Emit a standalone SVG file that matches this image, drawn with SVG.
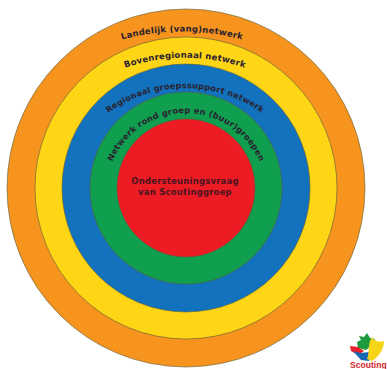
<svg xmlns="http://www.w3.org/2000/svg" width="387" height="369" viewBox="0 0 387 369">
<style>
.r{stroke:#5a5a3a;stroke-width:.6}
text{font-family:"DejaVu Sans","Liberation Sans",sans-serif;font-weight:700;fill:#2a2230;font-size:8.5px;letter-spacing:.2px}
.c{fill:#4a1420}
.t3{font-size:8.2px;letter-spacing:.2px}
.t4{font-size:8.3px;letter-spacing:.2px}
</style>
<defs>
<path id="a1" d="M 102 46 A 229 229 0 0 1 262 46"/>
<path id="a2" d="M 105 76 A 185 185 0 0 1 265 76"/>
<path id="a3" d="M 95 124 A 131 131 0 0 1 275 124"/>
<path id="a4" d="M 106 193 A 80 80 0 0 1 266 193"/>
</defs>
<rect width="387" height="369" fill="#fff"/>
<g id="ring-landelijk"><circle class="r" cx="186" cy="188" r="179" fill="#f7941d"/><text><textPath href="#a1" startOffset="50%" text-anchor="middle">Landelijk (vang)netwerk</textPath></text></g>
<g id="ring-bovenregionaal"><circle class="r" cx="186" cy="188" r="151" fill="#ffd616"/><text><textPath href="#a2" startOffset="50%" text-anchor="middle">Bovenregionaal netwerk</textPath></text></g>
<g id="ring-regionaal"><circle class="r" cx="186" cy="188" r="124" fill="#1272bd"/><text class="t3"><textPath href="#a3" startOffset="50%" text-anchor="middle">Regionaal groepssupport netwerk</textPath></text></g>
<g id="ring-netwerk"><circle class="r" cx="186" cy="188" r="96" fill="#0f9f4f"/><text class="t4"><textPath href="#a4" startOffset="50%" text-anchor="middle">Netwerk rond groep en (buur)groepen</textPath></text></g>
<g id="node-ondersteuningsvraag"><circle class="r" cx="186" cy="188" r="69" fill="#ed1c24"/>
<text class="c" x="185" y="184" text-anchor="middle">Ondersteuningsvraag</text>
<text class="c" x="185" y="195" text-anchor="middle">van Scoutinggroep</text></g>
<g id="logo">
<path d="M 357 342 L 361 340 L 359 336 L 364 337 L 367 333 L 370 338 L 375 339 L 372 345 L 366 350 L 358 348 Z" fill="#1f9b3f"/>
<path d="M 350 346 L 358 347 L 364 351 L 358 355 L 351 351 Z" fill="#e8202a"/>
<path d="M 353 351 L 360 353 L 370 352 L 369 361 L 361 360 Z" fill="#1467b3"/>
<path d="M 372 337 C 374 341 380 343 384 341 C 384 348 380 356 372 361 L 367 359 C 370 352 367 345 372 337 Z" fill="#f6d417"/>
<text x="350" y="368" style="fill:#d8232a;font-family:'Liberation Sans',sans-serif;font-size:8.6px;letter-spacing:0">Scouting</text>
</g>
</svg>
